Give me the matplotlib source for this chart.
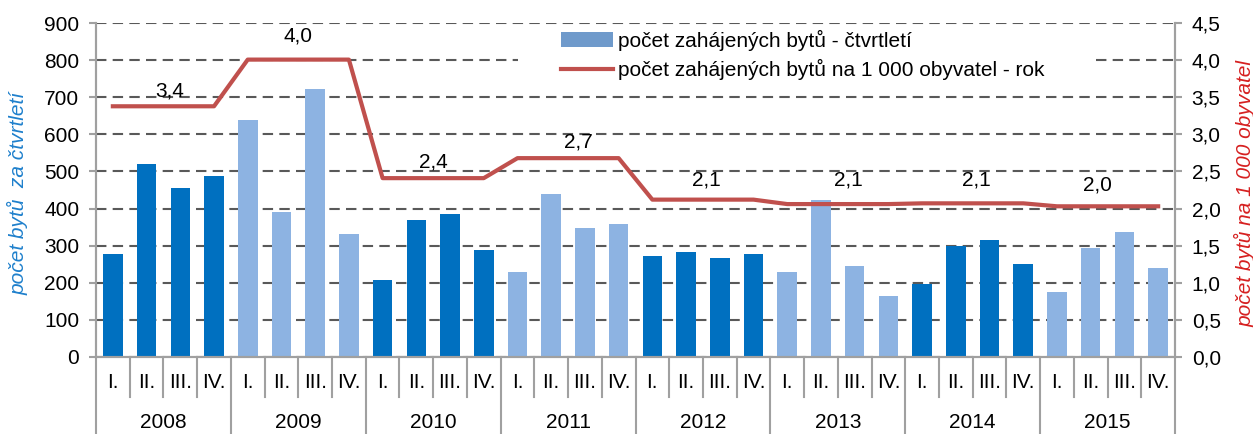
import numpy as np
import matplotlib
matplotlib.use("Agg")
import matplotlib.pyplot as plt
from matplotlib.patches import Patch, Rectangle
from matplotlib.lines import Line2D
from matplotlib.transforms import blended_transform_factory

plt.rcParams['font.family'] = ['Liberation Sans', 'DejaVu Sans']

# data
years = ['2008', '2009', '2010', '2011', '2012', '2013', '2014', '2015']
quarters = ['I.', 'II.', 'III.', 'IV.']
starts = [277, 520, 455, 488,
          639, 391, 723, 331,
          207, 369, 385, 288,
          229, 439, 347, 358,
          272, 283, 266, 277,
          229, 423, 245, 164,
          196, 299, 315, 250,
          175, 294, 337, 240]
# per-1000 rate, one value per quarter (annual value held for the year)
rate = [3.38, 3.38, 3.38, 3.38,
        4.01, 4.01, 4.01, 4.01,
        2.41, 2.41, 2.41, 2.41,
        2.68, 2.68, 2.68, 2.68,
        2.12, 2.12, 2.12, 2.12,
        2.06, 2.06, 2.06, 2.06,
        2.07, 2.07, 2.07, 2.07,
        2.03, 2.03, 2.03, 2.03]
rate_labels = ['3,4', '4,0', '2,4', '2,7', '2,1', '2,1', '2,1', '2,0']

# where the rate labels sit (quarter index, right-axis units)
label_x = [1.7, 5.5, 9.5, 13.8, 17.6, 21.8, 25.6, 29.2]
label_y = [3.59, 4.33, 2.63, 2.90, 2.39, 2.39, 2.39, 2.32]

dark_blue = '#0070C0'
light_blue = '#8DB3E2'
legend_blue = '#6F9ACB'
red = '#C0504D'
grey = '#A0A0A0'
fs = 15

fig = plt.figure(figsize=(12.53, 4.34), dpi=100)
ax = fig.add_axes([96/1253, 1 - 356.7/434, 1079/1253, 333.4/434])
ax2 = ax.twinx()

x = np.arange(len(starts))
colors = [dark_blue if (i // 4) % 2 == 0 else light_blue for i in x]
ax.bar(x, starts, width=0.58, color=colors, zorder=2)

ax.set_xlim(-0.5, len(starts) - 0.5)
ax.set_ylim(0, 900)
ax.set_yticks(np.arange(0, 901, 100))
ax.set_axisbelow(True)
ax.yaxis.grid(True, color='#595959', linestyle=(0, (5, 3)), linewidth=1.5)
ax.set_xticks([])

ax2.set_ylim(0, 4.5)
ax2.set_yticks(np.arange(0, 4.51, 0.5))
ax2.set_yticklabels([f'{v:.1f}'.replace('.', ',') for v in np.arange(0, 4.51, 0.5)])

for a in (ax, ax2):
    a.spines['top'].set_visible(False)
    for s in ('left', 'right', 'bottom'):
        a.spines[s].set_color(grey)
        a.spines[s].set_linewidth(1.5)
    a.tick_params(axis='y', length=5, width=1.5, color=grey, labelsize=fs, pad=7)

ax.set_ylabel('počet bytů  za čtvrtletí', fontsize=fs, style='italic',
              color='#1F80CC', va='center')
ax.yaxis.set_label_coords(-0.072, 0.49)
ax2.set_ylabel('počet bytů na 1 000 obyvatel', fontsize=fs, style='italic',
               color='#D62020', va='center')
ax2.yaxis.set_label_coords(1.0645, 0.49)

ax2.plot(x, rate, color=red, linewidth=3, zorder=3)
for lab, lx, ly in zip(rate_labels, label_x, label_y):
    ax2.text(lx, ly, lab, ha='center', va='center', fontsize=fs)

# category axis: quarters and years with divider lines
trans = blended_transform_factory(ax.transData, ax.transAxes)
px = 1 / 333.4
for i in x:
    ax.text(i, -26 * px, quarters[i % 4], transform=trans, ha='center',
            va='center', fontsize=fs)
for i in range(len(starts) + 1):
    bottom = -78 * px if i % 4 == 0 else -40 * px
    ax.plot([i - 0.5, i - 0.5], [0, bottom], transform=trans, color=grey,
            linewidth=1.5, clip_on=False)
for k, y in enumerate(years):
    ax.text(4 * k + 1.5, -66 * px, y, transform=trans, ha='center',
            va='center', fontsize=fs)

# white legend area covering the gridlines
ax2.add_patch(Rectangle((518/1253, 1 - 91/434), 572/1253, 64/434,
                        transform=fig.transFigure, facecolor='white',
                        edgecolor='none', zorder=4, clip_on=False))
handles = [Patch(facecolor=legend_blue, edgecolor='none'),
           Line2D([], [], color=red, linewidth=3)]
labels = ['počet zahájených bytů - čtvrtletí',
          'počet zahájených bytů na 1 000 obyvatel - rok']
leg = ax2.legend(handles, labels, loc='upper left',
                 bbox_to_anchor=(561/1253, 1 - 30/434),
                 bbox_transform=fig.transFigure, fontsize=fs,
                 frameon=False, handlelength=2.5, handletextpad=0.25,
                 labelspacing=0.4, borderpad=0, borderaxespad=0)
leg.set_zorder(5)

fig.savefig('out.png', dpi=100)
